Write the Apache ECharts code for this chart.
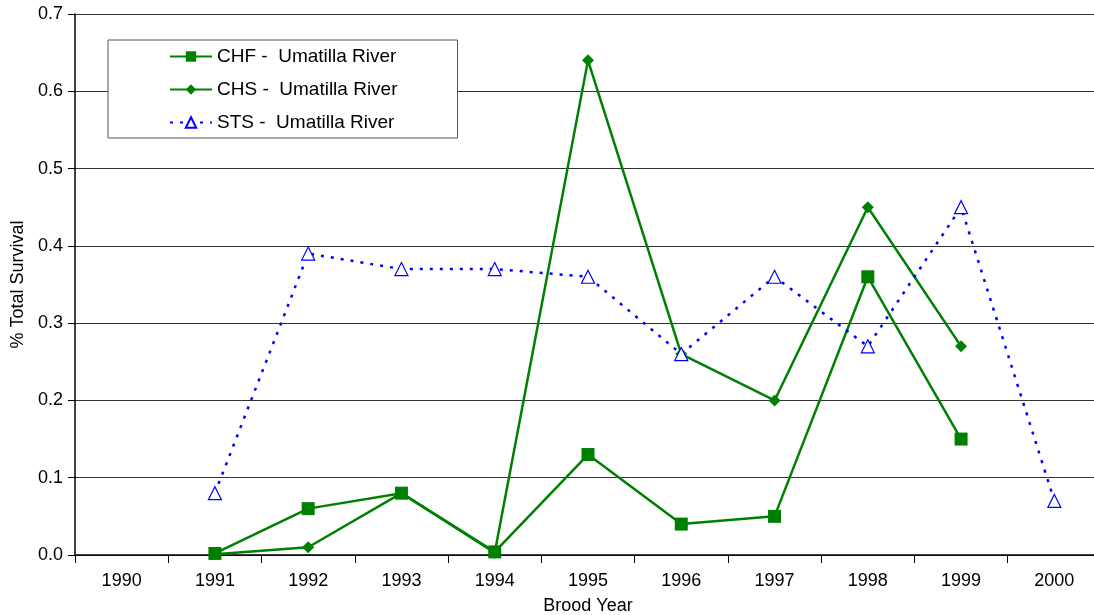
<!DOCTYPE html>
<html><head><meta charset="utf-8">
<script src="https://cdn.jsdelivr.net/npm/echarts@6/dist/echarts.min.js"></script>
<style>html,body{margin:0;padding:0;background:#fff}#c{width:1094px;height:615px}</style>
</head><body><div id="c"></div>
<script>
const years = ['1990','1991','1992','1993','1994','1995','1996','1997','1998','1999','2000'];
const chf = [null, 0.002, 0.06, 0.08, 0.004, 0.13, 0.04, 0.05, 0.36, 0.15, null];
const chs = [null, 0.001, 0.01, 0.08, 0.003, 0.64, 0.26, 0.20, 0.45, 0.27, null];
const sts = [null, 0.08, 0.39, 0.37, 0.37, 0.36, 0.26, 0.36, 0.27, 0.45, 0.07];
const names = ['CHF -  Umatilla River', 'CHS -  Umatilla River', 'STS -  Umatilla River'];

const chart = echarts.init(document.getElementById('c'));
const font = 'Liberation Sans, Arial, sans-serif';
chart.setOption({
  animation: false,
  grid: {left: 75, top: 14, right: -7, bottom: 60, outerBoundsMode: 'none', containLabel: false},
  legend: {
    orient: 'vertical', left: 108, top: 40,
    padding: [7, 60, 6, 61],
    backgroundColor: '#fff', borderColor: '#555', borderWidth: 1,
    itemGap: 14, itemWidth: 42, itemHeight: 13,
    textStyle: {fontFamily: font, fontSize: 19, color: '#000'},
    data: names
  },
  xAxis: {
    type: 'category', data: years, boundaryGap: true,
    name: 'Brood Year', nameLocation: 'middle', nameGap: 42,
    nameTextStyle: {fontFamily: font, fontSize: 18, color: '#000'},
    axisLine: {lineStyle: {color: '#000', width: 1.5}},
    axisTick: {show: true, length: 8, lineStyle: {color: '#000'}},
    axisLabel: {fontFamily: font, fontSize: 18, color: '#000', margin: 17},
    splitLine: {show: false}
  },
  yAxis: {
    type: 'value', min: 0, max: 0.7, interval: 0.1,
    name: '% Total Survival', nameLocation: 'middle', nameGap: 47, nameRotate: 90,
    nameTextStyle: {fontFamily: font, fontSize: 18, color: '#000'},
    axisLine: {show: true, lineStyle: {color: '#000', width: 1.5}},
    axisTick: {show: true, length: 7, lineStyle: {color: '#000'}},
    axisLabel: {fontFamily: font, fontSize: 18, color: '#000', margin: 12,
      formatter: v => v.toFixed(1)},
    splitLine: {show: true, lineStyle: {color: '#333', width: 1}}
  },
  series: [
    {name: names[0], type: 'line', data: chf,
     symbol: 'rect', symbolSize: 13, lineStyle: {color: '#008000', width: 2.5},
     itemStyle: {color: '#008000'}},
    {name: names[1], type: 'line', data: chs,
     symbol: 'diamond', symbolSize: 12, lineStyle: {color: '#008000', width: 2.5},
     itemStyle: {color: '#008000'}},
    {name: names[2], type: 'line', data: sts,
     symbol: 'triangle', symbolSize: 13, lineStyle: {color: '#0000ff', width: 2.5, type: [3, 7]},
     itemStyle: {color: '#fff', borderColor: '#0000ff', borderWidth: 1.2}}
  ]
});
</script></body></html>
